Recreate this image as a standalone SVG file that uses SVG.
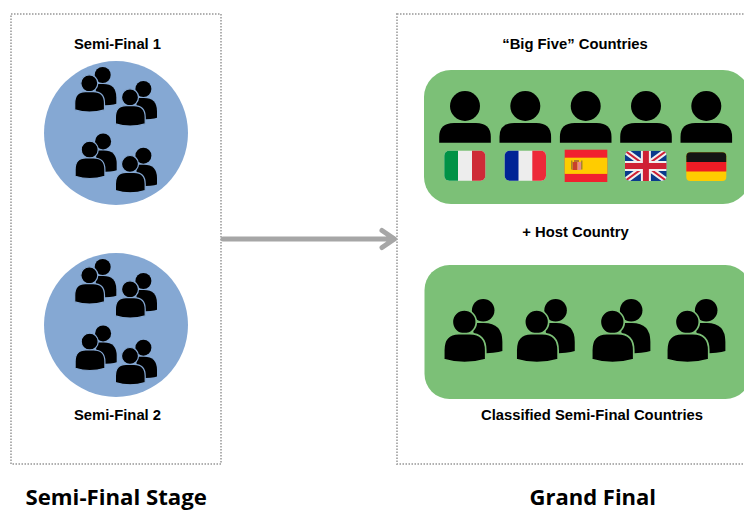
<svg xmlns="http://www.w3.org/2000/svg" width="744" height="511" viewBox="0 0 744 511">
<style>
.frame{fill:#fff;stroke:#b0b0b0;stroke-width:2;stroke-dasharray:1.500 1.500}
.lab{font-family:"Liberation Sans",Arial,sans-serif;font-weight:700;font-size:14.800px;fill:#000;text-anchor:middle}
.ttl{font-family:"Open Sans","Noto Sans",sans-serif;font-weight:700;font-size:22px;fill:#000}
.blue{fill:#85a8d3}
.green{fill:#7cc077}
.blueI{stroke:#85a8d3}
.greenI{stroke:#7cc077}
.conn{fill:none;stroke:#a6a6a6;stroke-width:5;stroke-linecap:round;stroke-linejoin:round}
</style>
<defs>
<g id="pair">
<circle cx="13.400" cy="-8.300" r="8" stroke="none"/>
<path stroke="none" d="M5,.7H14Q27,.7 27,14V20.500Q22.500,22 10,22.300Z"/>
<circle cx="0" cy="0" r="8.500" stroke-width="1.200"/>
<path stroke-width="1.200" d="M-14.600,26.600V20Q-14.600,8.300 -4,8.300H4Q15.200,8.300 15.200,20V26.600Q0,31 -14.600,26.600Z"/>
</g>
<g id="solo">
<circle cx="0" cy="0" r="15"/>
<path d="M-25.800,36.700V31Q-25.800,17 -11,17H11Q25.800,17 25.800,31V36.700Z"/>
</g>
<clipPath id="ukc"><rect x="625" y="150.700" width="41.700" height="30.300" rx="5"/></clipPath>
</defs>
<rect class="frame" x="11" y="14" width="210" height="450"/>
<rect class="frame" x="397" y="14" width="350" height="450"/>
<g id="connectors">
<path class="conn" d="M223,239H394M382,230.500L394.500,239L382,247.500"/>
</g>
<g id="semi-final-1">
<circle class="blue" cx="116" cy="133" r="72"/>
<use href="#pair" class="blueI" x="89.300" y="83.300"/>
<use href="#pair" class="blueI" x="130" y="97.300"/>
<use href="#pair" class="blueI" x="89.700" y="149.700"/>
<use href="#pair" class="blueI" x="130" y="164"/>
<text class="lab" x="117.500" y="49">Semi-Final 1</text>
</g>
<g id="semi-final-2">
<circle class="blue" cx="116" cy="325" r="72"/>
<use href="#pair" class="blueI" x="89.300" y="275.300"/>
<use href="#pair" class="blueI" x="130" y="289.300"/>
<use href="#pair" class="blueI" x="89.700" y="341.700"/>
<use href="#pair" class="blueI" x="130" y="356"/>
<text class="lab" x="117.500" y="420">Semi-Final 2</text>
</g>
<g id="big-five">
<rect class="green" x="424" y="70" width="326" height="134" rx="27"/>
<use href="#solo" x="465" y="106"/>
<use href="#solo" x="525.300" y="106"/>
<use href="#solo" x="585.700" y="106"/>
<use href="#solo" x="646" y="106"/>
<use href="#solo" x="706.300" y="106"/>
<g id="flag-it">
<rect x="444.300" y="150.700" width="41" height="30" rx="5" fill="#ededed"/>
<path fill="#009246" d="M458,150.700H449.300a5,5 0 0 0 -5,5V175.700a5,5 0 0 0 5,5H458Z"/>
<path fill="#ce2b37" d="M472,150.700H480.300a5,5 0 0 1 5,5V175.700a5,5 0 0 1 -5,5H472Z"/>
</g>
<g id="flag-fr">
<rect x="504.700" y="150.700" width="41.300" height="30" rx="5" fill="#ededed"/>
<path fill="#002395" d="M518.500,150.700H509.700a5,5 0 0 0 -5,5V175.700a5,5 0 0 0 5,5H518.500Z"/>
<path fill="#ed2939" d="M532.300,150.700H541a5,5 0 0 1 5,5V175.700a5,5 0 0 1 -5,5H532.300Z"/>
</g>
<g id="flag-es">
<rect x="564.700" y="149.700" width="42.600" height="32.300" fill="#f1212f"/>
<rect x="564.700" y="157.700" width="42.600" height="16.200" fill="#ffcc00"/>
<rect x="572.500" y="162" width="5" height="8" fill="#c8402a"/>
<rect x="577.500" y="162" width="3.500" height="8" fill="#e58a8a"/>
<rect x="571" y="160.500" width="1.500" height="9" fill="#a8862a"/>
<rect x="581" y="160.500" width="1.500" height="9" fill="#a8862a"/>
<rect x="574" y="160" width="5" height="2" fill="#b5762a"/>
</g>
<g id="flag-uk" clip-path="url(#ukc)">
<rect x="625" y="150.700" width="41.700" height="30.300" fill="#0a3a8c"/>
<path d="M625,150.700L666.700,181M666.700,150.700L625,181" stroke="#f0f0f0" stroke-width="6" fill="none"/>
<path d="M625,150.700L666.700,181M666.700,150.700L625,181" stroke="#cf2034" stroke-width="2" fill="none"/>
<path d="M645.900,150.700V181M625,165.900H666.700" stroke="#f0f0f0" stroke-width="10" fill="none"/>
<path d="M645.900,150.700V181M625,165.900H666.700" stroke="#cf2034" stroke-width="6" fill="none"/>
</g>
<g id="flag-de">
<rect x="686.300" y="152.300" width="40" height="28.700" rx="4" fill="#ffcc00"/>
<path fill="#ee1c25" d="M686.300,162H726.300V171.500H686.300Z"/>
<path fill="#141414" d="M686.300,162V156.300a4,4 0 0 1 4,-4H722.300a4,4 0 0 1 4,4V162Z"/>
</g>
<text class="lab" x="575" y="49">“Big Five” Countries</text>
</g>
<g id="host-country">
<text class="lab" x="575.500" y="237">+ Host Country</text>
</g>
<g id="classified">
<rect class="green" x="424.500" y="265" width="326" height="134" rx="25"/>
<g transform="translate(464.300 322) scale(1.41)"><use href="#pair" class="greenI"/></g>
<g transform="translate(536.700 322) scale(1.41)"><use href="#pair" class="greenI"/></g>
<g transform="translate(612.300 322) scale(1.41)"><use href="#pair" class="greenI"/></g>
<g transform="translate(687.300 322) scale(1.41)"><use href="#pair" class="greenI"/></g>
<text class="lab" x="592" y="420">Classified Semi-Final Countries</text>
</g>
<text class="ttl" x="25.500" y="504.600" style="font-size:22.200px">Semi-Final Stage</text>
<text class="ttl" x="529.500" y="504.600">Grand Final</text>
</svg>
